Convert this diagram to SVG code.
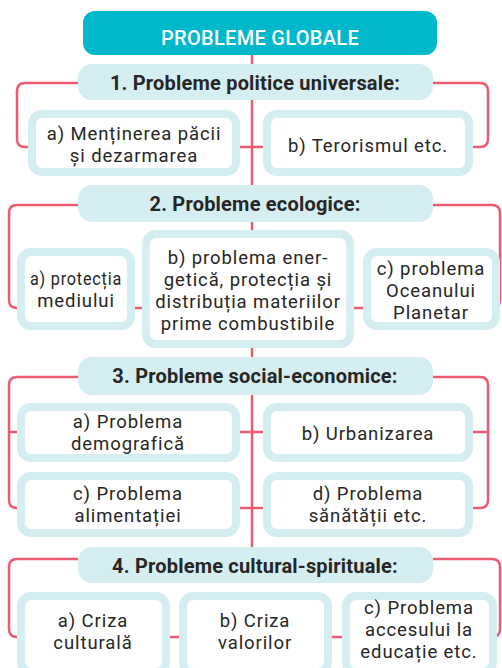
<svg xmlns="http://www.w3.org/2000/svg" width="502" height="668" viewBox="0 0 502 668">
<style>
.ln{fill:none;stroke:#EC5B72;stroke-width:2.5}
.hd{fill:#D5EEF2}
.bx{fill:#fff;stroke:#D5EEF2;stroke-width:8}
.t{font-family:Roboto,"Liberation Sans",sans-serif;font-size:18.5px;letter-spacing:0.9px;fill:#262626;text-anchor:middle}
.h{font-family:Roboto,"Liberation Sans",sans-serif;font-size:20px;letter-spacing:0.2px;font-weight:bold;fill:#262626;text-anchor:middle}
</style>
<rect width="502" height="668" fill="#fff"/>
<g id="connectors">
<path class="ln" d="M252,55 V547"/>
<path class="ln" d="M78,83 H25 Q17,83 17,91 V139 Q17,147 25,147 H32 M433,83 H480 Q488,83 488,91 V139 Q488,147 480,147 H469 M236,147 H267"/>
<path class="ln" d="M78,205 H17 Q9,205 9,213 V300 Q9,308 17,308 H21 M433,205 H492 Q500,205 500,213 V300 Q500,308 492,308 M131,308 H146 M350,308 H367"/>
<path class="ln" d="M78,377 H17 Q9,377 9,385 V500 Q9,508 17,508 H21 M9,432 H21 M433,377 H480 Q488,377 488,385 V500 Q488,508 480,508 H469 M488,432 H469 M236,432 H267 M236,508 H267"/>
<path class="ln" d="M78,559 H17 Q9,559 9,567 V629 Q9,637 17,637 H21 M433,559 H492 Q500,559 500,567 V629 Q500,637 492,637 M166,637 H183 M328,637 H346"/>
</g>
<g id="root">
<rect x="83" y="11" width="354" height="44" rx="12" fill="#00B8CB"/>
<text x="260" y="45" class="h" style="fill:#fff;font-weight:500;letter-spacing:0.3px">PROBLEME GLOBALE</text>
</g>
<g id="h1">
<rect class="hd" x="78" y="64" width="355" height="36" rx="14"/>
<text x="255" y="90" class="h">1. Probleme politice universale:</text>
</g>
<g id="n1a">
<rect class="bx" x="32" y="114" width="204" height="58" rx="10"/>
<text x="134" y="140" class="t">a) Menținerea păcii</text>
<text x="134" y="162" class="t">și dezarmarea</text>
</g>
<g id="n1b">
<rect class="bx" x="267" y="114" width="202" height="58" rx="10"/>
<text x="368" y="152" class="t">b) Terorismul etc.</text>
</g>
<g id="h2">
<rect class="hd" x="78" y="185" width="355" height="37" rx="14"/>
<text x="255" y="211" class="h">2. Probleme ecologice:</text>
</g>
<g id="n2a">
<rect class="bx" x="21" y="252" width="110" height="74" rx="10"/>
<text x="76" y="285" class="t" textLength="92" lengthAdjust="spacingAndGlyphs">a) protecția</text>
<text x="76" y="307" class="t">mediului</text>
</g>
<g id="n2b">
<rect class="bx" x="146" y="234" width="204" height="110" rx="10"/>
<text x="248" y="264" class="t">b) problema ener-</text>
<text x="248" y="286" class="t">getică, protecția și</text>
<text x="248" y="308" class="t">distribuția materiilor</text>
<text x="248" y="330" class="t">prime combustibile</text>
</g>
<g id="n2c">
<rect class="bx" x="367" y="252" width="129" height="74" rx="10"/>
<text x="431" y="275" class="t">c) problema</text>
<text x="431" y="297" class="t">Oceanului</text>
<text x="431" y="319" class="t">Planetar</text>
</g>
<g id="h3">
<rect class="hd" x="78" y="357" width="355" height="38" rx="14"/>
<text x="255" y="383" class="h">3. Probleme social-economice:</text>
</g>
<g id="n3a">
<rect class="bx" x="21" y="407" width="215" height="51" rx="10"/>
<text x="128" y="428" class="t">a) Problema</text>
<text x="128" y="450" class="t">demografică</text>
</g>
<g id="n3b">
<rect class="bx" x="267" y="407" width="202" height="51" rx="10"/>
<text x="368" y="440" class="t">b) Urbanizarea</text>
</g>
<g id="n3c">
<rect class="bx" x="21" y="476" width="215" height="57" rx="10"/>
<text x="128" y="500" class="t">c) Problema</text>
<text x="128" y="522" class="t">alimentației</text>
</g>
<g id="n3d">
<rect class="bx" x="267" y="476" width="202" height="57" rx="10"/>
<text x="368" y="500" class="t">d) Problema</text>
<text x="368" y="522" class="t">sănătății etc.</text>
</g>
<g id="h4">
<rect class="hd" x="78" y="547" width="355" height="36" rx="14"/>
<text x="255" y="573" class="h">4. Probleme cultural-spirituale:</text>
</g>
<g id="n4a">
<rect class="bx" x="21" y="596" width="145" height="76" rx="10"/>
<text x="93" y="627" class="t">a) Criza</text>
<text x="93" y="649" class="t">culturală</text>
</g>
<g id="n4b">
<rect class="bx" x="183" y="596" width="145" height="76" rx="10"/>
<text x="255" y="627" class="t">b) Criza</text>
<text x="255" y="649" class="t">valorilor</text>
</g>
<g id="n4c">
<rect class="bx" x="346" y="596" width="147" height="76" rx="10"/>
<text x="419" y="614" class="t">c) Problema</text>
<text x="419" y="636" class="t">accesului la</text>
<text x="419" y="658" class="t">educație etc.</text>
</g>
</svg>
